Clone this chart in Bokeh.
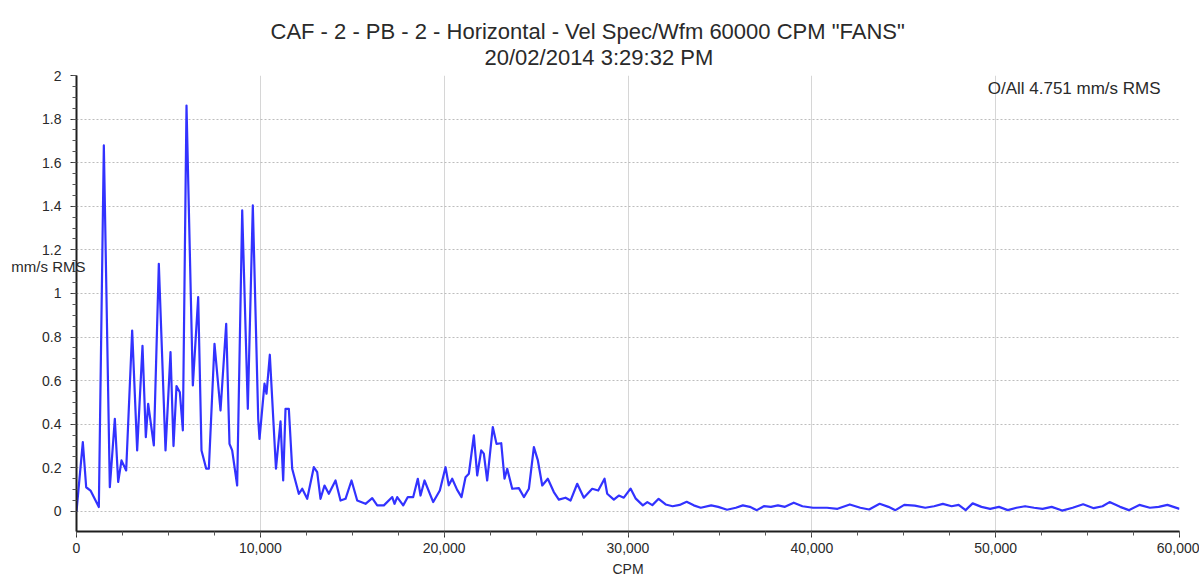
from bokeh.plotting import figure
from bokeh.models import ColumnDataSource, Range1d, FixedTicker, Title, Label, LinearAxis
from bokeh.embed import file_html
from bokeh.resources import INLINE

# Velocity spectrum: frequency in CPM and amplitude in mm/s RMS
cpm = [
    0, 344, 527, 762, 1215, 1487, 1813, 2085, 2267, 2448, 2702, 3028, 3300, 3590,
    3771, 3898, 4206, 4478, 4842, 5114, 5277, 5440, 5621, 5785, 5984, 6329, 6620,
    6800, 7056, 7200, 7507, 7834, 8143, 8323, 8468, 8740, 9014, 9319, 9591, 9885,
    9955, 10227, 10336, 10516, 10850, 11098, 11243, 11370, 11550, 11733, 12093,
    12278, 12550, 12909, 13093, 13274, 13491, 13726, 14090, 14362, 14634, 14960,
    15270, 15722, 16086, 16358, 16720, 17176, 17300, 17445, 17772, 18023, 18316,
    18566, 18714, 18931, 19405, 19764, 20074, 20250, 20437, 20700, 20944, 21162,
    21343, 21615, 21797, 22015, 22157, 22340, 22645, 22848, 23104, 23283, 23430,
    23702, 24064, 24336, 24608, 24880, 25097, 25335, 25639, 25966, 26237, 26602,
    26874, 27238, 27597, 28053, 28380, 28723, 28869, 29230, 29500, 29773, 30138,
    30410, 30807, 31052, 31324, 31666, 32047, 32428, 32809, 33190, 33576, 33956,
    34527, 34908, 35387, 35866, 36247, 36628, 37009, 37390, 37775, 38156, 38537,
    39016, 39489, 40065, 40827, 41398, 42066, 42637, 43117, 43689, 44168, 44548,
    45027, 45598, 46169, 46648, 47127, 47605, 47986, 48367, 48748, 49227, 49700,
    50179, 50657, 51136, 51600, 52088, 52550, 53045, 53617, 54188, 54759, 55336,
    55814, 56195, 56766, 57241, 57818, 58389, 58868, 59342, 60000,
]
amplitude = [
    0.0, 0.318, 0.111, 0.096, 0.02, 1.679, 0.111, 0.425, 0.135, 0.234, 0.188, 0.83,
    0.28, 0.76, 0.341, 0.494, 0.303, 1.136, 0.28, 0.731, 0.3, 0.575, 0.547, 0.372,
    1.862, 0.578, 0.983, 0.28, 0.196, 0.196, 0.769, 0.463, 0.861, 0.31, 0.28, 0.119,
    1.381, 0.471, 1.404, 0.425, 0.333, 0.586, 0.54, 0.719, 0.196, 0.413, 0.142,
    0.471, 0.471, 0.196, 0.081, 0.104, 0.058, 0.203, 0.18, 0.058, 0.119, 0.081,
    0.142, 0.05, 0.058, 0.142, 0.05, 0.035, 0.061, 0.028, 0.028, 0.066, 0.035,
    0.066, 0.028, 0.066, 0.066, 0.15, 0.073, 0.142, 0.043, 0.096, 0.203, 0.12,
    0.15, 0.1, 0.066, 0.157, 0.173, 0.349, 0.165, 0.28, 0.265, 0.142, 0.387, 0.31,
    0.313, 0.15, 0.196, 0.104, 0.107, 0.066, 0.104, 0.295, 0.234, 0.119, 0.15,
    0.089, 0.054, 0.063, 0.05, 0.127, 0.063, 0.104, 0.096, 0.15, 0.081, 0.054,
    0.073, 0.063, 0.105, 0.06, 0.028, 0.043, 0.029, 0.058, 0.032, 0.024, 0.03,
    0.044, 0.028, 0.017, 0.028, 0.021, 0.008, 0.017, 0.028, 0.021, 0.006, 0.024,
    0.021, 0.028, 0.021, 0.04, 0.024, 0.017, 0.017, 0.012, 0.032, 0.017, 0.009,
    0.035, 0.021, 0.006, 0.03, 0.027, 0.017, 0.024, 0.035, 0.024, 0.03, 0.006,
    0.037, 0.021, 0.012, 0.021, 0.006, 0.017, 0.024, 0.017, 0.012, 0.021, 0.004,
    0.017, 0.033, 0.015, 0.024, 0.043, 0.021, 0.006, 0.03, 0.017, 0.021, 0.03,
    0.012,
]

x_ticks = [0, 10000, 20000, 30000, 40000, 50000, 60000]
x_tick_labels = ["0", "10,000", "20,000", "30,000", "40,000", "50,000", "60,000"]
y_ticks = [0.0, 0.2, 0.4, 0.6, 0.8, 1.0, 1.2, 1.4, 1.6, 1.8, 2.0]
y_tick_labels = ["0", "0.2", "0.4", "0.6", "0.8", "1", "1.2", "1.4", "1.6", "1.8", "2"]

title_line_1 = 'CAF - 2 - PB - 2 - Horizontal - Vel Spec/Wfm 60000 CPM "FANS"'
title_line_2 = "20/02/2014 3:29:32 PM"
overall_text = "O/All 4.751 mm/s RMS"
y_units = "mm/s RMS"
x_name = "CPM"

FONT = "Liberation Sans"
TEXT = "#2a2a2a"

source = ColumnDataSource(data=dict(cpm=cpm, amplitude=amplitude))

p = figure(
    width=1199, height=579,
    x_range=Range1d(0, 60000), y_range=Range1d(-0.092, 2.0),
    output_backend="svg", toolbar_location=None,
    min_border_left=76, min_border_right=20, min_border_top=75, min_border_bottom=0,
    background_fill_color="white", border_fill_color="white",
)
p.outline_line_color = None

# Two title lines, the lower one added first so it sits nearest the frame
p.add_layout(Title(text=title_line_2, align="left", offset=408, text_font=FONT,
                   text_font_size="22px", text_font_style="normal",
                   text_color=TEXT, standoff=11), "above")
p.add_layout(Title(text=title_line_1, align="left", offset=194, text_font=FONT,
                   text_font_size="22px", text_font_style="normal",
                   text_color=TEXT, standoff=-12), "above")

# Tickers
minor_x = [2500 * k for k in range(0, 25)]
minor_y = [round(0.05 * k, 2) for k in range(0, 41)]
p.xaxis.ticker = FixedTicker(ticks=x_ticks, minor_ticks=minor_x)
p.yaxis.ticker = FixedTicker(ticks=y_ticks, minor_ticks=minor_y)
p.xaxis.major_label_overrides = dict(zip(x_ticks, x_tick_labels))
p.yaxis.major_label_overrides = dict(zip(y_ticks, y_tick_labels))

for ax in (p.xaxis[0], p.yaxis[0]):
    ax.axis_line_color = "#1e1e1e"
    ax.axis_line_width = 2
    ax.major_tick_line_color = "#333333"
    ax.major_tick_line_width = 1
    ax.major_tick_in = 0
    ax.major_tick_out = 6
    ax.minor_tick_line_color = "#555555"
    ax.minor_tick_in = 0
    ax.minor_tick_out = 4
    ax.major_label_text_font = FONT
    ax.major_label_text_font_size = "14px"
    ax.major_label_text_color = TEXT

p.yaxis.major_label_standoff = 9
p.xaxis.major_label_standoff = 5
p.xaxis.axis_label = x_name
p.xaxis.axis_label_text_font = FONT
p.xaxis.axis_label_text_font_size = "14px"
p.xaxis.axis_label_text_font_style = "normal"
p.xaxis.axis_label_text_color = TEXT
p.xaxis.axis_label_standoff = 5

# Units caption written beside the value axis, level with the 1.12 mark
units_axis = LinearAxis(
    ticker=FixedTicker(ticks=[1.124], minor_ticks=[]),
    major_label_overrides={1.124: y_units},
    axis_line_color=None, major_tick_line_color=None, minor_tick_line_color=None,
    major_tick_out=0, major_tick_in=0, minor_tick_out=0, minor_tick_in=0,
    major_label_standoff=-46, major_label_text_font=FONT,
    major_label_text_font_size="15px", major_label_text_color=TEXT,
)
p.add_layout(units_axis, "left")

# Grids: solid vertical lines per 10,000 CPM, dotted horizontal lines per 0.2
p.xgrid.grid_line_color = "#d6d6d6"
p.xgrid.grid_line_width = 1
p.ygrid.grid_line_color = "#bdbdbd"
p.ygrid.grid_line_dash = "2 2"
p.ygrid.grid_line_width = 1

p.line("cpm", "amplitude", source=source, line_color="#3232ff",
       line_width=2.2, line_join="round")

p.add_layout(Label(x=58970, y=1.94, text=overall_text, text_align="right",
                   text_baseline="middle", text_font=FONT, text_font_size="17px",
                   text_color=TEXT))

open("out.html", "w").write(file_html(p, INLINE))
